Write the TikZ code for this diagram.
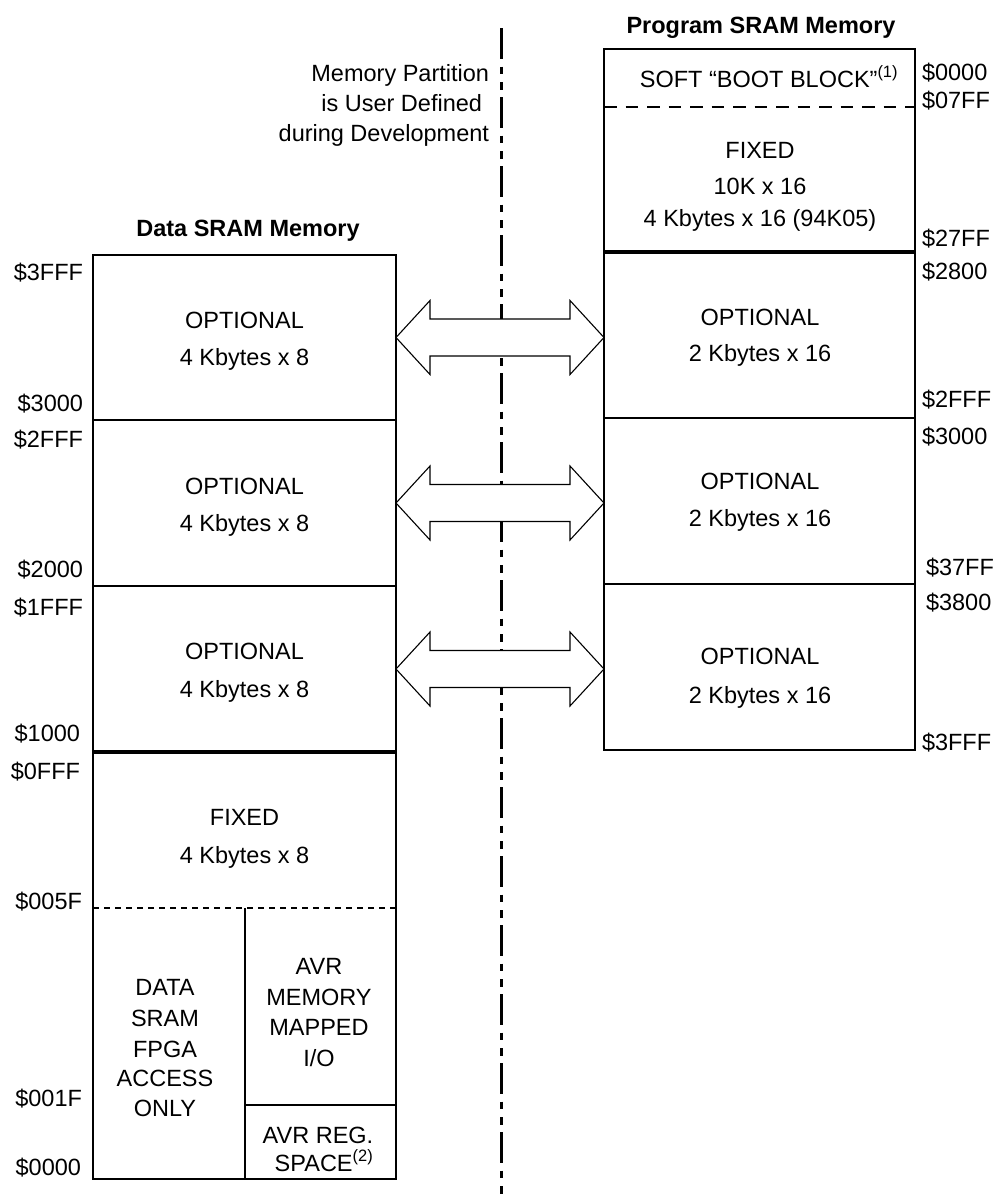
\documentclass[tikz,border=0pt]{standalone}
\usepackage{fontspec}
\setmainfont{Liberation Sans}
\usetikzlibrary{calc}
\begin{document}
\begin{tikzpicture}[x=1pt,y=-1pt,
  every node/.style={inner sep=0pt, outer sep=0pt, font=\fontsize{23.5}{30}\selectfont},
  cell/.style={draw, line width=1.4pt, anchor=north west},
  txt/.style={anchor=base},
  ttl/.style={anchor=base, font=\fontsize{23.5}{30}\selectfont\bfseries},
  laddr/.style={anchor=base east},
  raddr/.style={anchor=base west},
  heavy/.style={line width=4.5pt},
  ldash/.style={line width=1.4pt, dash pattern=on 6pt off 5pt},
  rdash/.style={line width=1.4pt, dash pattern=on 12.5pt off 9pt},
  axis/.style={line width=3pt, dash pattern=on 30.5pt off 8pt on 7.5pt off 8pt on 7.5pt off 7.5pt},
  blockarrow/.style={draw, fill=white, line width=1.1pt, line join=miter}
]
\useasboundingbox (0,0) rectangle (995,1195);

% partition axis
\coordinate (axtop) at (501,28);
\coordinate (axbot) at (501,1195);
\draw[axis] (axtop) -- (axbot);

% data SRAM cells
\node[cell, minimum width=303pt, minimum height=165pt] (d3) at (93,255) {};
\node[cell, minimum width=303pt, minimum height=166pt] (d2) at (93,420) {};
\node[cell, minimum width=303pt, minimum height=166pt] (d1) at (93,586) {};
\node[cell, minimum width=303pt, minimum height=427pt] (d0) at (93,752) {};
\draw[heavy] (d1.south west) -- (d1.south east);
\coordinate (dsplitL) at (93,908);
\coordinate (dsplitR) at (396,908);
\draw[ldash] (dsplitL) -- (dsplitR);
\coordinate (dvt) at (245,908);
\coordinate (dvb) at (245,1179);
\draw[line width=1.4pt] (dvt) -- (dvb);
\coordinate (dhl) at (245,1105);
\coordinate (dhr) at (396,1105);
\draw[line width=1.4pt] (dhl) -- (dhr);

% program SRAM cells
\node[cell, minimum width=311pt, minimum height=203pt] (p0) at (604,49) {};
\node[cell, minimum width=311pt, minimum height=166pt] (p1) at (604,252) {};
\node[cell, minimum width=311pt, minimum height=166pt] (p2) at (604,418) {};
\node[cell, minimum width=311pt, minimum height=166pt] (p3) at (604,584) {};
\draw[heavy] (p0.south west) -- (p0.south east);
\coordinate (psplitL) at (604,107);
\coordinate (psplitR) at (915,107);
\draw[rdash] (psplitL) -- (psplitR);

% double arrows
\foreach \a/\b in {d3/p1, d2/p2, d1/p3}{
  \draw[blockarrow] let \p1=(\a.east), \p2=(\b.west) in
    (\x1,\y1) -- (\x1+34pt,\y1+37pt) -- (\x1+34pt,\y1+18.5pt) -- (\x2-34pt,\y1+18.5pt)
    -- (\x2-34pt,\y1+37pt) -- (\x2,\y1) -- (\x2-34pt,\y1-37pt) -- (\x2-34pt,\y1-18.5pt)
    -- (\x1+34pt,\y1-18.5pt) -- (\x1+34pt,\y1-37pt) -- cycle;
}

% titles and note
\node[ttl] (tprog) at (761,33) {Program SRAM Memory};
\node[ttl] (tdata) at (248,236) {Data SRAM Memory};
\node[anchor=base east] (n1) at (489,81) {Memory Partition};
\node[anchor=base east] (n2) at (482,111) {is User Defined};
\node[anchor=base east] (n3) at (489,141) {during Development};

% program texts
\node[txt] (pb) at (769,87) {SOFT “BOOT BLOCK”\textsuperscript{(1)}};
\node[txt] (pf1) at (760,158) {FIXED};
\node[txt] (pf2) at (760,194) {10K x 16};
\node[txt] (pf3) at (760,226) {4 Kbytes x 16 (94K05)};
\node[txt] (po1a) at (760,325) {OPTIONAL};
\node[txt] (po1b) at (760,361) {2 Kbytes x 16};
\node[txt] (po2a) at (760,489) {OPTIONAL};
\node[txt] (po2b) at (760,526) {2 Kbytes x 16};
\node[txt] (po3a) at (760,664) {OPTIONAL};
\node[txt] (po3b) at (760,703) {2 Kbytes x 16};

% program addresses
\node[raddr] (ra1) at (922,80) {\$0000};
\node[raddr] (ra2) at (922,108) {\$07FF};
\node[raddr] (ra3) at (922,246) {\$27FF};
\node[raddr] (ra4) at (922,279) {\$2800};
\node[raddr] (ra5) at (922,407) {\$2FFF};
\node[raddr] (ra6) at (922,444) {\$3000};
\node[raddr] (ra7) at (926,575) {\$37FF};
\node[raddr] (ra8) at (926,610) {\$3800};
\node[raddr] (ra9) at (922,750) {\$3FFF};

% data texts
\node[txt] (do3a) at (244.5,328) {OPTIONAL};
\node[txt] (do3b) at (244.5,365) {4 Kbytes x 8};
\node[txt] (do2a) at (244.5,494) {OPTIONAL};
\node[txt] (do2b) at (244.5,531) {4 Kbytes x 8};
\node[txt] (do1a) at (244.5,659) {OPTIONAL};
\node[txt] (do1b) at (244.5,697) {4 Kbytes x 8};
\node[txt] (df1) at (244.5,825) {FIXED};
\node[txt] (df2) at (244.5,863) {4 Kbytes x 8};
\node[txt] (dx1) at (165,995) {DATA};
\node[txt] (dx2) at (165,1026) {SRAM};
\node[txt] (dx3) at (165,1057) {FPGA};
\node[txt] (dx4) at (165,1086) {ACCESS};
\node[txt] (dx5) at (165,1116) {ONLY};
\node[txt] (dm1) at (319,974) {AVR};
\node[txt] (dm2) at (319,1005) {MEMORY};
\node[txt] (dm3) at (319,1035) {MAPPED};
\node[txt] (dm4) at (319,1066) {I/O};
\node[txt] (dr1) at (318,1143) {AVR REG.};
\node[txt] (dr2) at (324,1171) {SPACE\textsuperscript{(2)}};

% data addresses
\node[laddr] (la1) at (83,280) {\$3FFF};
\node[laddr] (la2) at (83,411) {\$3000};
\node[laddr] (la3) at (83,447) {\$2FFF};
\node[laddr] (la4) at (83,577) {\$2000};
\node[laddr] (la5) at (83,615) {\$1FFF};
\node[laddr] (la6) at (80,741) {\$1000};
\node[laddr] (la7) at (80,779) {\$0FFF};
\node[laddr] (la8) at (82,909) {\$005F};
\node[laddr] (la9) at (82,1106) {\$001F};
\node[laddr] (la10) at (81,1175) {\$0000};
\end{tikzpicture}
\end{document}
